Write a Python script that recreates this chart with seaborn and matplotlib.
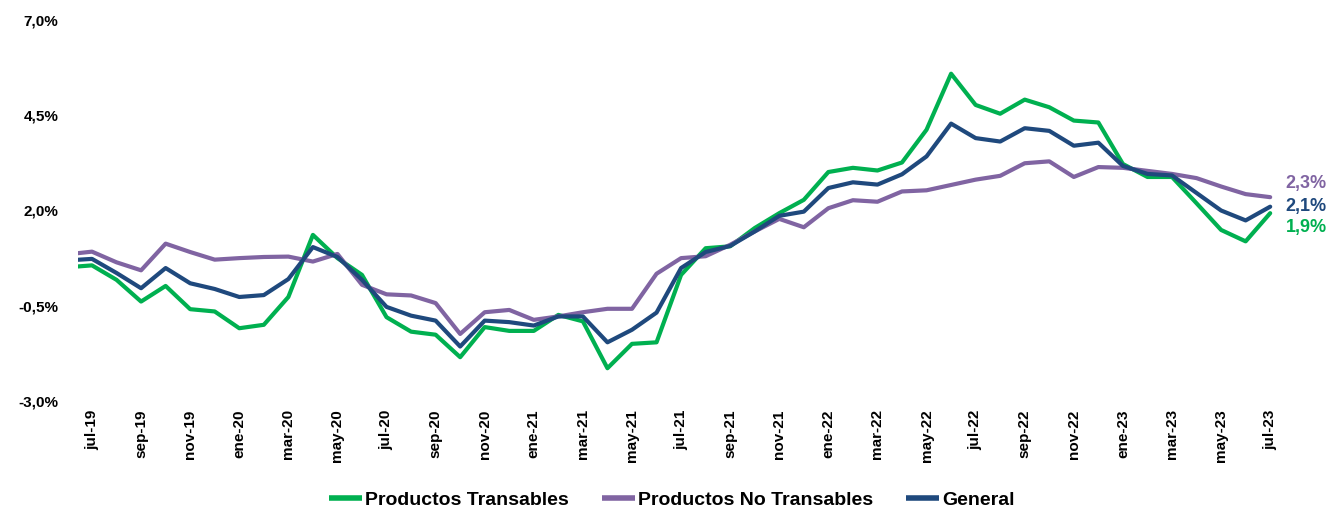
import pandas as pd
import matplotlib.pyplot as plt
import seaborn as sns

# Monthly series, jun-19 .. jul-23 (jun-19 only shows as a clipped stub)
abrev = ['ene', 'feb', 'mar', 'abr', 'may', 'jun', 'jul', 'ago', 'sep', 'oct', 'nov', 'dic']
meses = [f'{abrev[m]}-{a}' for a in range(19, 24) for m in range(12)]
meses = meses[5:meses.index('jul-23') + 1]

transables = [0.51,
              0.56, 0.18, -0.39, 0.02, -0.59, -0.65,
              -1.09, -1.00, -0.27, 1.36, 0.75, 0.31, -0.80, -1.18, -1.26, -1.85, -1.06, -1.16,
              -1.16, -0.74, -0.91, -2.14, -1.50, -1.46, 0.31, 1.01, 1.06, 1.54, 1.93, 2.28,
              3.01, 3.12, 3.05, 3.26, 4.12, 5.59, 4.77, 4.54, 4.91, 4.71, 4.36, 4.31,
              3.22, 2.88, 2.88, 2.19, 1.49, 1.19, 1.93]
no_transables = [0.85,
                 0.92, 0.64, 0.43, 1.13, 0.91, 0.71,
                 0.75, 0.78, 0.79, 0.66, 0.86, 0.05, -0.20, -0.23, -0.43, -1.24, -0.67, -0.61,
                 -0.87, -0.78, -0.67, -0.58, -0.58, 0.34, 0.75, 0.80, 1.10, 1.45, 1.78, 1.56,
                 2.06, 2.27, 2.23, 2.50, 2.53, 2.67, 2.81, 2.91, 3.24, 3.29, 2.88, 3.14,
                 3.12, 3.04, 2.96, 2.85, 2.63, 2.43, 2.35]
general = [0.69,
           0.73, 0.36, -0.04, 0.49, 0.09, -0.06,
           -0.27, -0.22, 0.20, 1.04, 0.78, 0.18, -0.53, -0.76, -0.89, -1.57, -0.89, -0.93,
           -1.02, -0.78, -0.78, -1.46, -1.13, -0.68, 0.49, 0.91, 1.07, 1.45, 1.86, 1.97,
           2.59, 2.74, 2.68, 2.95, 3.42, 4.28, 3.90, 3.81, 4.16, 4.09, 3.70, 3.78,
           3.17, 2.96, 2.92, 2.46, 2.00, 1.74, 2.10]

series = ['Productos Transables', 'Productos No Transables', 'General']
colores = ['#00B050', '#8064A2', '#1F497D']
etiquetas_fin = ['1,9%', '2,3%', '2,1%']

# long format table for seaborn
df = pd.concat([
    pd.DataFrame({'idx': range(len(meses)), 'valor': vals, 'serie': name})
    for name, vals in zip(series, [transables, no_transables, general])
])

sns.set_theme(style='white')
plt.rcParams['font.family'] = ['Liberation Sans', 'DejaVu Sans']
plt.rcParams['font.weight'] = 'bold'

fig = plt.figure(figsize=(13.32, 5.11), dpi=100)
ax = fig.add_axes([78 / 1332, 110 / 511, 1202 / 1332, 381 / 511])

sns.lineplot(data=df, x='idx', y='valor', hue='serie', hue_order=series,
             palette=colores, linewidth=3, sort=False, legend=False, ax=ax)

ax.set_xlim(0.43, 49.4)
ax.set_ylim(-3, 7)
sns.despine(ax=ax, left=True, bottom=True)
ax.grid(False)

# y ticks with comma decimals
yt = [-3.0, -0.5, 2.0, 4.5, 7.0]
ax.set_yticks(yt)
ax.set_yticklabels([f'{v:.1f}%'.replace('.', ',') for v in yt],
                   fontsize=11, fontweight='bold', color='black')

# x ticks every two months, from jul-19
xt = list(range(1, len(meses), 2))
ax.set_xticks(xt)
ax.set_xticklabels([meses[i] for i in xt], rotation=90, fontsize=11,
                   fontweight='bold', color='black')
ax.tick_params(axis='both', length=0)
ax.tick_params(axis='y', pad=14)
ax.tick_params(axis='x', pad=6)
ax.set_xlabel('')
ax.set_ylabel('')

# end-of-line value labels
ultimo = len(meses) - 1
offsets = [-10, 10, 0]
for vals, col, txt, dy in zip([transables, no_transables, general], colores, etiquetas_fin, offsets):
    ax.annotate(txt, xy=(ultimo, vals[-1]), xytext=(11, dy), textcoords='offset points',
                color=col, fontsize=13, fontweight='bold', va='center', ha='left',
                annotation_clip=False)

handles = [plt.Line2D([], [], color=c, linewidth=4, solid_capstyle='butt') for c in colores]
fig.legend(handles, series, loc='center', bbox_to_anchor=(672 / 1332, 11 / 511),
           ncol=3, frameon=False, handlelength=1.7, handletextpad=0.15,
           columnspacing=1.7, labelcolor='black', prop={'weight': 'bold', 'size': 14})

fig.savefig('out.png', dpi=100)
